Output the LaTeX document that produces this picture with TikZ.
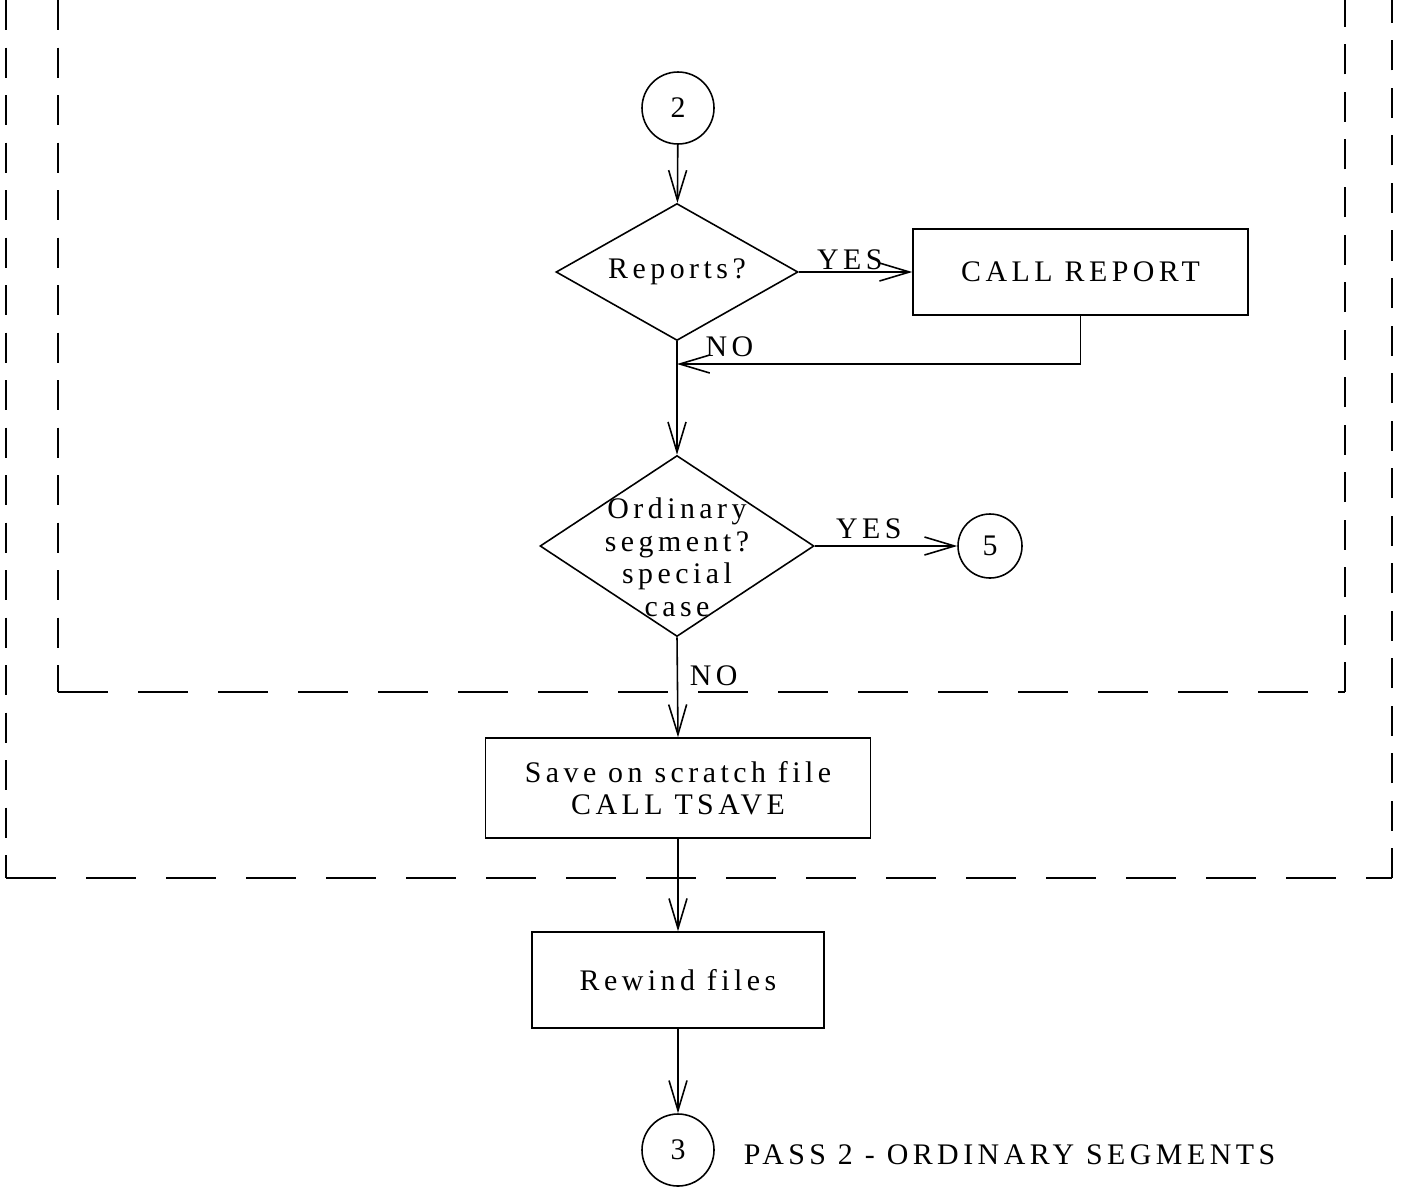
\documentclass[tikz,border=0pt]{standalone}
\usepackage{fontspec}
\newfontfamily\typefont{Liberation Serif}[LetterSpace=15]
\usetikzlibrary{arrows.meta,positioning,shapes.geometric}

\begin{document}
\begin{tikzpicture}[
    font=\typefont\fontsize{17}{18.5}\selectfont,
    line width=0.9pt,
    box/.style={draw, align=center, inner sep=0pt},
    decision/.style={draw, diamond, inner sep=0pt, align=center, aspect=1.6},
    conn/.style={draw, circle, inner sep=0pt, minimum size=1.44cm},
    lbl/.style={inner sep=1pt},
    arr/.style={-{Straight Barb[length=0.6cm, width=0.36cm]}},
    vborder/.style={dash pattern=on 0.6cm off 0.35cm},
    hborder/.style={dash pattern=on 1.0cm off 0.6cm}
]
\useasboundingbox (0,0) rectangle (28.04,-23.72);

% dashed boundaries
\draw[vborder] (0.12,0) -- (0.12,-17.56);
\draw[hborder] (0.12,-17.56) -- (27.84,-17.56);
\draw[vborder] (27.84,-17.56) -- (27.84,0);
\draw[vborder] (1.16,0) -- (1.16,-13.84);
\draw[hborder] (1.16,-13.84) -- (26.9,-13.84);
\draw[vborder] (26.9,-13.84) -- (26.9,0);

\node[conn] (c2) at (13.56,-2.16) {2};

\node[decision, minimum width=4.84cm, minimum height=2.74cm] (rep)
    at (13.54,-5.44) {Reports?};

\node[box, minimum width=6.7cm, minimum height=1.72cm] (callrep)
    at (21.61,-5.44) {CALL REPORT};

\coordinate (join) at (13.54,-7.28);

\node[decision, minimum width=5.48cm, minimum height=3.62cm] (seg)
    at (13.54,-10.92)
    {\raisebox{-0.45cm}[0pt][0pt]{\begin{tabular}[c]{@{}c@{}}
     Ordinary\\ segment?\\ special\\ case\end{tabular}}};

\node[conn, minimum size=1.28cm] (c5) at (19.8,-10.92) {5};

\node[box, minimum width=7.7cm, minimum height=2.0cm] (save)
    at (13.56,-15.76) {Save on scratch file\\ CALL TSAVE};

\node[box, minimum width=5.84cm, minimum height=1.92cm] (rewind)
    at (13.56,-19.6) {Rewind files};

\node[conn] (c3) at (13.56,-23.0) {3};

\node[right=0.45cm of c3, yshift=-0.1cm] (title) {PASS 2 - ORDINARY SEGMENTS};

\draw[arr] (c2) -- (rep);
\draw[arr] (rep.east) -- (callrep.west)
    node[lbl, above, pos=0.45] {YES};
\draw[arr] (callrep.south) |- (join);
\draw[arr] (rep.south) -- (seg.north)
    node[lbl, pos=0, anchor=west, xshift=0.52cm, yshift=-0.1cm] {NO};
\draw[arr] (seg.east) -- (c5)
    node[lbl, above, pos=0.38, yshift=0.1cm] {YES};
\draw[arr] (seg.south) -- (save.north)
    node[lbl, pos=0.38, anchor=west, xshift=0.2cm] {NO};
\draw[arr] (save) -- (rewind);
\draw[arr] (rewind) -- (c3);

\end{tikzpicture}
\end{document}
